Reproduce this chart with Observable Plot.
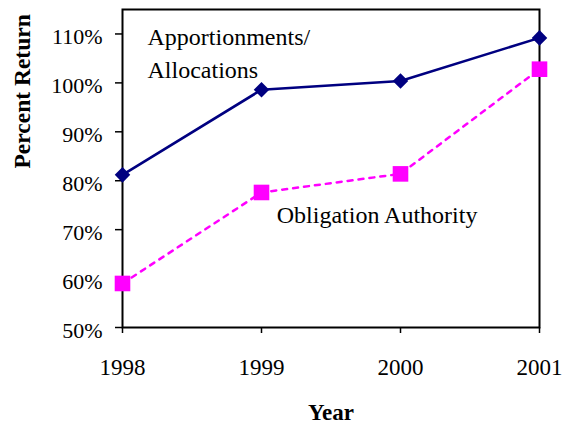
<!DOCTYPE html>
<html>
<head>
<meta charset="utf-8">
<script src="https://cdn.jsdelivr.net/npm/d3@7"></script>
<script src="https://cdn.jsdelivr.net/npm/@observablehq/plot@0.6"></script>
<style>
  html, body { margin: 0; padding: 0; background: #fff; }
  #chart svg { display: block; }
  #chart svg, #chart svg text { font-family: "Liberation Serif", "DejaVu Serif", serif !important; }
</style>
</head>
<body>
<div id="chart"></div>
<script>
const years = [1998, 1999, 2000, 2001];
const apportionments = [81.2, 98.6, 100.4, 109.2];
const obligation = [59.0, 77.6, 81.4, 102.8];
const yTicks = [50, 60, 70, 80, 90, 100, 110];
const seriesLabels = ["Apportionments/", "Allocations", "Obligation Authority"];
const labelYears = [1998.18, 1998.18, 1999.11];
const labelValues = [109.3, 102.5, 72.9];

const appData = years.map((y, i) => ({year: y, value: apportionments[i]}));
const oblData = years.map((y, i) => ({year: y, value: obligation[i]}));
const labelData = seriesLabels.map((t, i) => ({text: t, year: labelYears[i], value: labelValues[i]}));

const serif = "Liberation Serif";

const chart = Plot.plot({
  width: 578,
  height: 426,
  marginLeft: 122,
  marginRight: 39,
  marginTop: 9,
  marginBottom: 99,
  style: {fontFamily: serif, fontSize: "22px", color: "black", background: "white"},
  x: {domain: [1998, 2001]},
  y: {domain: [50, 115]},
  marks: [
    Plot.axisX({ticks: years, tickFormat: d => String(d), tickSize: 6, tickPadding: 25, fontSize: 23, fontFamily: serif, label: null, strokeWidth: 1.5}),
    Plot.axisY({ticks: yTicks, tickFormat: () => "", tickSize: 7, label: null, strokeWidth: 1.5}),
    Plot.axisY({ticks: yTicks, tickFormat: d => d + "%", tickSize: 0, tickPadding: 20, dy: 3, fontSize: 22, fontFamily: serif, label: null}),
    Plot.frame({stroke: "black", strokeWidth: 2}),
    Plot.line(oblData, {x: "year", y: "value", stroke: "#FF00FF", strokeWidth: 2.5, strokeDasharray: "5,6"}),
    Plot.line(appData, {x: "year", y: "value", stroke: "#000080", strokeWidth: 2.6}),
    Plot.dot(oblData, {x: "year", y: "value", symbol: "square", r: 8.8, fill: "#FF00FF", stroke: "none"}),
    Plot.dot(appData, {x: "year", y: "value", symbol: "diamond2", r: 7, fill: "#000080", stroke: "none"}),
    Plot.text(labelData, {x: "year", y: "value", text: "text", textAnchor: "start", fontSize: 24, fontFamily: serif, fill: "black"}),
    Plot.text(["Percent Return"], {frameAnchor: "left", dx: -100, rotate: -90, fontWeight: "bold", fontSize: 23.5, fontFamily: serif, fill: "black"}),
    Plot.text(["Year"], {frameAnchor: "bottom", dy: 92, fontWeight: "bold", fontSize: 23, fontFamily: serif, fill: "black"})
  ]
});
document.getElementById("chart").appendChild(chart);
</script>
</body>
</html>
